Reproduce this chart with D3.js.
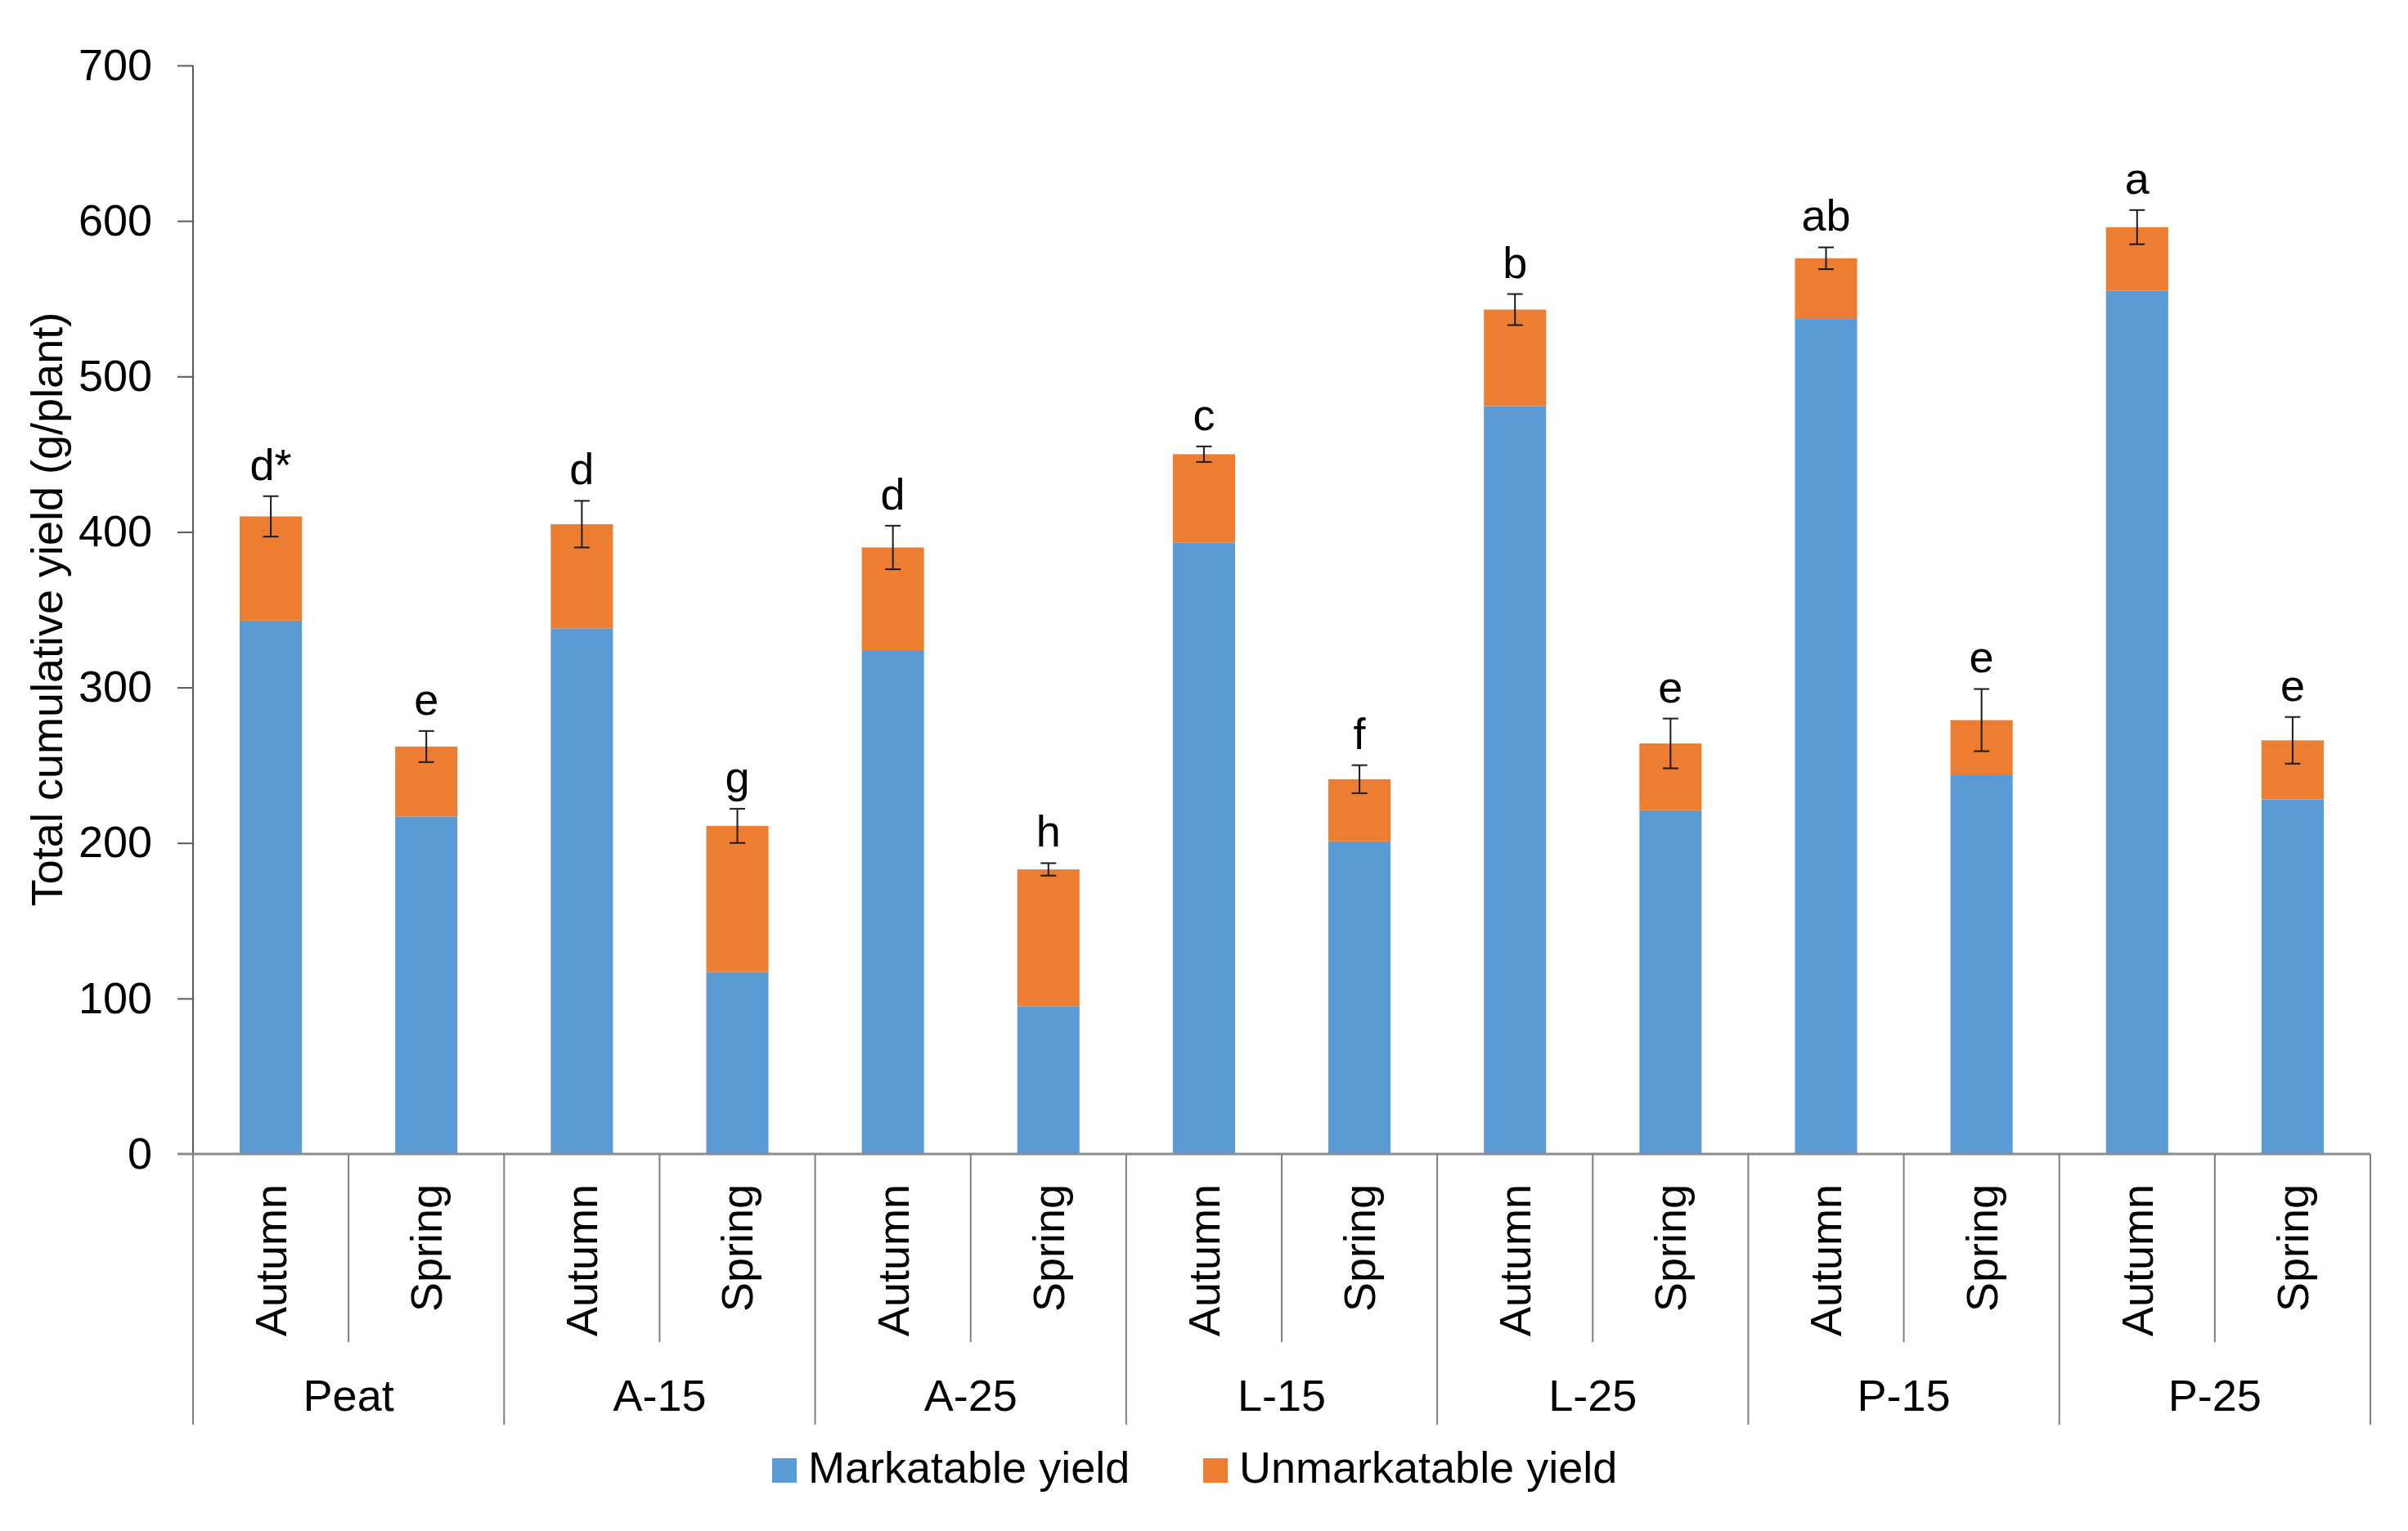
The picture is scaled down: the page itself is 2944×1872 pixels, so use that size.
<!DOCTYPE html>
<html>
<head>
<meta charset="utf-8">
<script src="https://cdn.jsdelivr.net/npm/d3@7"></script>
<style>
    body { margin: 0; background: #fff; }
    text { font-family: "Liberation Sans", Arial, sans-serif; fill: #000; }
</style>
</head>
<body>
<div id="chart"></div>
<script>
// data
const groups = ["Peat", "A-15", "A-25", "L-15", "L-25", "P-15", "P-25"]
const seasons = ["Autumn", "Spring"]
const marketable = [343, 217, 338, 117, 324, 95, 393, 201, 481, 221, 537, 244, 555, 228]
const total = [410, 262, 405, 211, 390, 183, 450, 241, 543, 264, 576, 279, 596, 266]
const stderr = [13, 10, 15, 11, 14, 4, 5, 9, 10, 16, 7, 20, 11, 15]
const letters = ["d*", "e", "d", "g", "d", "h", "c", "f", "b", "e", "ab", "e", "a", "e"]
const yTicks = [0, 100, 200, 300, 400, 500, 600, 700]
const seriesNames = ["Markatable yield", "Unmarkatable yield"]

const width = 2944
const height = 1872
const margin = {left: 236, right: 46, top: 80, bottom: 461}
const blue = "#5B9BD5"
const orange = "#ED7D31"
const fontSize = 54

const svg = d3.select("#chart").append("svg")
    .attr("width", width)
    .attr("height", height)

const rows = []
groups.forEach((g, i) => {
    seasons.forEach((s, j) => {
        const k = i * 2 + j
        rows.push({key: g + "|" + s, group: g, season: s, m: marketable[k], t: total[k], se: stderr[k], letter: letters[k]})
    })
})

const x = d3.scaleBand()
    .domain(rows.map(d => d.key))
    .range([margin.left, width - margin.right])
    .paddingInner(0.6)
    .paddingOuter(0.3)

const y = d3.scaleLinear()
    .domain([0, 700])
    .range([height - margin.bottom, margin.top])

const step = x.step()
const y0 = y(0)

// y axis
const yAxis = svg.append("g")
    .attr("transform", `translate(${margin.left},0)`)
    .call(d3.axisLeft(y).tickValues(yTicks).tickSize(19).tickPadding(31))
yAxis.select(".domain").remove()
yAxis.selectAll(".tick line").attr("stroke", "#595959").attr("stroke-width", 2)
yAxis.selectAll(".tick").filter(d => d === 0).select("line").remove()
yAxis.selectAll(".tick text")
    .attr("font-size", fontSize)
    .attr("font-family", "Liberation Sans, Arial, sans-serif")
    .attr("fill", "#000")

svg.append("line")
    .attr("x1", margin.left).attr("x2", margin.left)
    .attr("y1", y(700)).attr("y2", y0)
    .attr("stroke", "#595959").attr("stroke-width", 2)

// bars
const bars = svg.append("g")
bars.selectAll(".m")
    .data(rows)
    .join("rect")
        .attr("class", "m")
        .attr("x", d => x(d.key))
        .attr("width", x.bandwidth())
        .attr("y", d => y(d.m))
        .attr("height", d => y0 - y(d.m))
        .attr("fill", blue)

bars.selectAll(".u")
    .data(rows)
    .join("rect")
        .attr("class", "u")
        .attr("x", d => x(d.key))
        .attr("width", x.bandwidth())
        .attr("y", d => y(d.t))
        .attr("height", d => y(d.m) - y(d.t))
        .attr("fill", orange)

// error bars
const cap = 9.5
const err = svg.append("g").attr("stroke", "#1a1a1a").attr("stroke-width", 2)
rows.forEach(d => {
    const cx = x(d.key) + x.bandwidth() / 2
    err.append("line").attr("x1", cx).attr("x2", cx).attr("y1", y(d.t + d.se)).attr("y2", y(d.t - d.se))
    err.append("line").attr("x1", cx - cap).attr("x2", cx + cap).attr("y1", y(d.t + d.se)).attr("y2", y(d.t + d.se))
    err.append("line").attr("x1", cx - cap).attr("x2", cx + cap).attr("y1", y(d.t - d.se)).attr("y2", y(d.t - d.se))
})

// significance letters
svg.append("g").selectAll("text")
    .data(rows)
    .join("text")
        .attr("x", d => x(d.key) + x.bandwidth() / 2)
        .attr("y", d => y(d.t + d.se) - 20)
        .attr("text-anchor", "middle")
        .attr("font-size", fontSize)
        .text(d => d.letter)

// x axis line
svg.append("line")
    .attr("x1", margin.left - 19).attr("x2", width - margin.right)
    .attr("y1", y0).attr("y2", y0)
    .attr("stroke", "#8c8c8c").attr("stroke-width", 3)

// category separators
const sep = svg.append("g").attr("stroke", "#7f7f7f").attr("stroke-width", 2)
rows.forEach((d, i) => {
    const xl = x(d.key) - step * 0.3
    const isGroupEdge = i % 2 === 0
    sep.append("line")
        .attr("x1", xl).attr("x2", xl)
        .attr("y1", y0).attr("y2", isGroupEdge ? 1742 : 1641)
})
sep.append("line")
    .attr("x1", width - margin.right).attr("x2", width - margin.right)
    .attr("y1", y0).attr("y2", 1742)

// season labels
svg.append("g").selectAll("text")
    .data(rows)
    .join("text")
        .attr("transform", d => `translate(${x(d.key) + x.bandwidth() / 2},1448) rotate(-90)`)
        .attr("text-anchor", "end")
        .attr("dy", "0.35em")
        .attr("font-size", fontSize)
        .text(d => d.season)

// group labels
svg.append("g").selectAll("text")
    .data(groups)
    .join("text")
        .attr("x", g => x(g + "|Autumn") - step * 0.3 + step)
        .attr("y", 1725)
        .attr("text-anchor", "middle")
        .attr("font-size", fontSize)
        .text(g => g)

// y axis title
svg.append("text")
    .attr("transform", "translate(57,745) rotate(-90)")
    .attr("text-anchor", "middle")
    .attr("dy", "0.35em")
    .attr("font-size", fontSize)
    .text("Total cumulative yield (g/plant)")

// legend
const legendX = [944, 1471]
const legend = svg.append("g")
seriesNames.forEach((name, i) => {
    legend.append("rect")
        .attr("x", legendX[i]).attr("y", 1783)
        .attr("width", 30).attr("height", 30)
        .attr("fill", i === 0 ? blue : orange)
    legend.append("text")
        .attr("x", legendX[i] + 44)
        .attr("y", 1813)
        .attr("font-size", fontSize)
        .text(name)
})
</script>
</body>
</html>
